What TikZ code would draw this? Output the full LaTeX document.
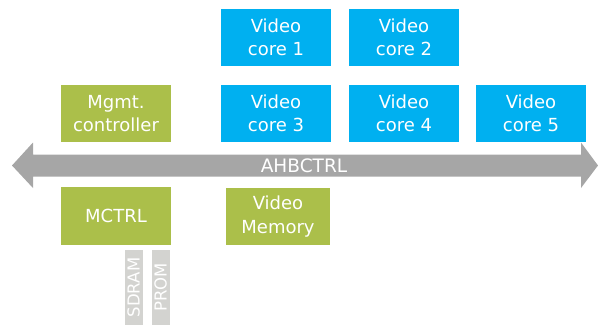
\documentclass[tikz,border=0pt]{standalone}
\usepackage{fontspec}
\setmainfont{DejaVu Sans}
\definecolor{coreblue}{HTML}{00B0F0}
\definecolor{ctrlgreen}{HTML}{ABBF4A}
\definecolor{busgray}{HTML}{A6A6A6}
\definecolor{memgray}{HTML}{D3D3D0}
\begin{document}
\begin{tikzpicture}[x=1pt,y=-1pt,
  blk/.style={inner sep=0pt,minimum width=110pt,minimum height=57pt,align=center,
    text=white,font=\fontsize{18}{23.5}\selectfont},
  core/.style={blk,fill=coreblue},
  ctrl/.style={blk,fill=ctrlgreen},
  membar/.style={fill=memgray,inner sep=0pt,minimum width=75pt,minimum height=18pt,
    rotate=90,text=white,font=\fontsize{16.5}{20}\selectfont}]
\useasboundingbox (0,0) rectangle (598,325);

% AMBA bus arrow
\fill[busgray] (12,165.5) -- (33,142.5) -- (33,154.5) -- (581,154.5) -- (581,142.5)
  -- (598,165.5) -- (581,188) -- (581,176.5) -- (33,176.5) -- (33,188) -- cycle;
\node[text=white,font=\fontsize{18.5}{22}\selectfont] (bus) at (304,165.5) {AHBCTRL};

% video cores
\node[core] (vc1) at (276,37.5) {Video\\core 1};
\node[core] (vc2) at (404,37.5) {Video\\core 2};
\node[core] (vc3) at (276,113.5) {Video\\core 3};
\node[core] (vc4) at (404,113.5) {Video\\core 4};
\node[core] (vc5) at (531,113.5) {Video\\core 5};

% controllers and memory
\node[ctrl] (mgmt) at (116,113.5) {Mgmt.\\controller};
\node[ctrl,minimum height=58pt] (mctrl) at (116,216) {MCTRL};
\node[ctrl,minimum width=104pt] (vmem) at (278,216.5) {Video\\Memory};

% external memories
\node[membar] (sdram) at (133.5,287.5) {SDRAM};
\node[membar] (prom) at (160.5,287.5) {PROM};
\end{tikzpicture}
\end{document}
